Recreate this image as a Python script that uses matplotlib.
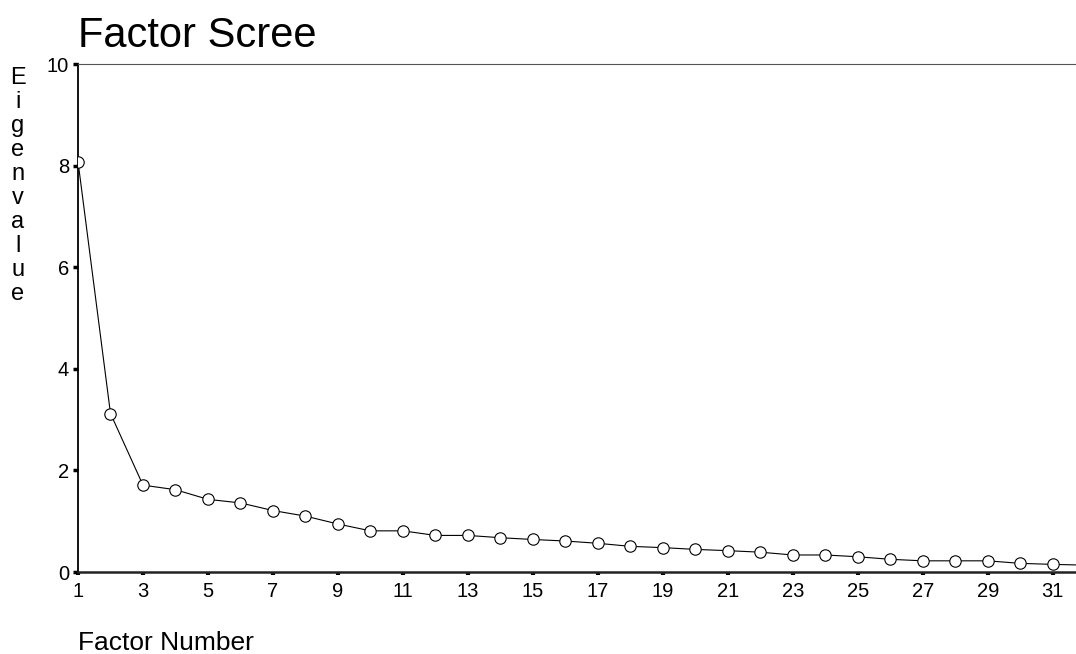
import matplotlib
matplotlib.use("Agg")
import matplotlib.pyplot as plt

factors = list(range(1, 33))
eigenvalues = [8.08, 3.12, 1.71, 1.62, 1.43, 1.36, 1.21, 1.10, 0.945, 0.81,
               0.81, 0.72, 0.72, 0.675, 0.64, 0.61, 0.565, 0.505, 0.48, 0.445,
               0.42, 0.39, 0.335, 0.335, 0.30, 0.25, 0.22, 0.22, 0.22, 0.17,
               0.15, 0.135]
xticks = list(range(1, 32, 2))
yticks = [0, 2, 4, 6, 8, 10]

plt.rcParams['font.family'] = ['Liberation Sans', 'DejaVu Sans']

W, H = 1076, 654
fig = plt.figure(figsize=(W / 100, H / 100), dpi=100)
ax = fig.add_axes([78 / W, (H - 572) / H, (W - 78) / W, 508 / H])

ax.plot(factors, eigenvalues, color='black', lw=0.8, marker='o', ms=8.2,
        mfc='white', mec='black', mew=0.8, clip_on=True, zorder=3)

ax.set_xlim(1, 1 + (W - 78) / 32.49)
ax.set_ylim(0, 10)
ax.set_xticks(xticks)
ax.set_yticks(yticks)

ax.spines['left'].set_color('black')
ax.spines['left'].set_linewidth(1.3)
ax.spines['bottom'].set_color('#222222')
ax.spines['bottom'].set_linewidth(1.8)
ax.spines['top'].set_color('#555555')
ax.spines['top'].set_linewidth(0.8)
ax.spines['right'].set_visible(False)

ax.tick_params(axis='y', direction='out', length=3.5, width=2.5, color='black',
               labelsize=14.5, pad=3)
ax.tick_params(axis='x', direction='out', length=2.5, width=3, color='black',
               labelsize=14.5, pad=5)

fig.text(78 / W, 1 - 47 / H, 'Factor Scree', fontsize=30, ha='left', va='baseline')
fig.text(78 / W, 1 - 650 / H, 'Factor Number', fontsize=19, ha='left', va='baseline')
fig.text(18 / W, 1 - 67 / H, '\n'.join('Eigenvalue'), fontsize=17, ha='center',
         va='top', linespacing=1.12, multialignment='center')

fig.savefig('out.png', dpi=100)
